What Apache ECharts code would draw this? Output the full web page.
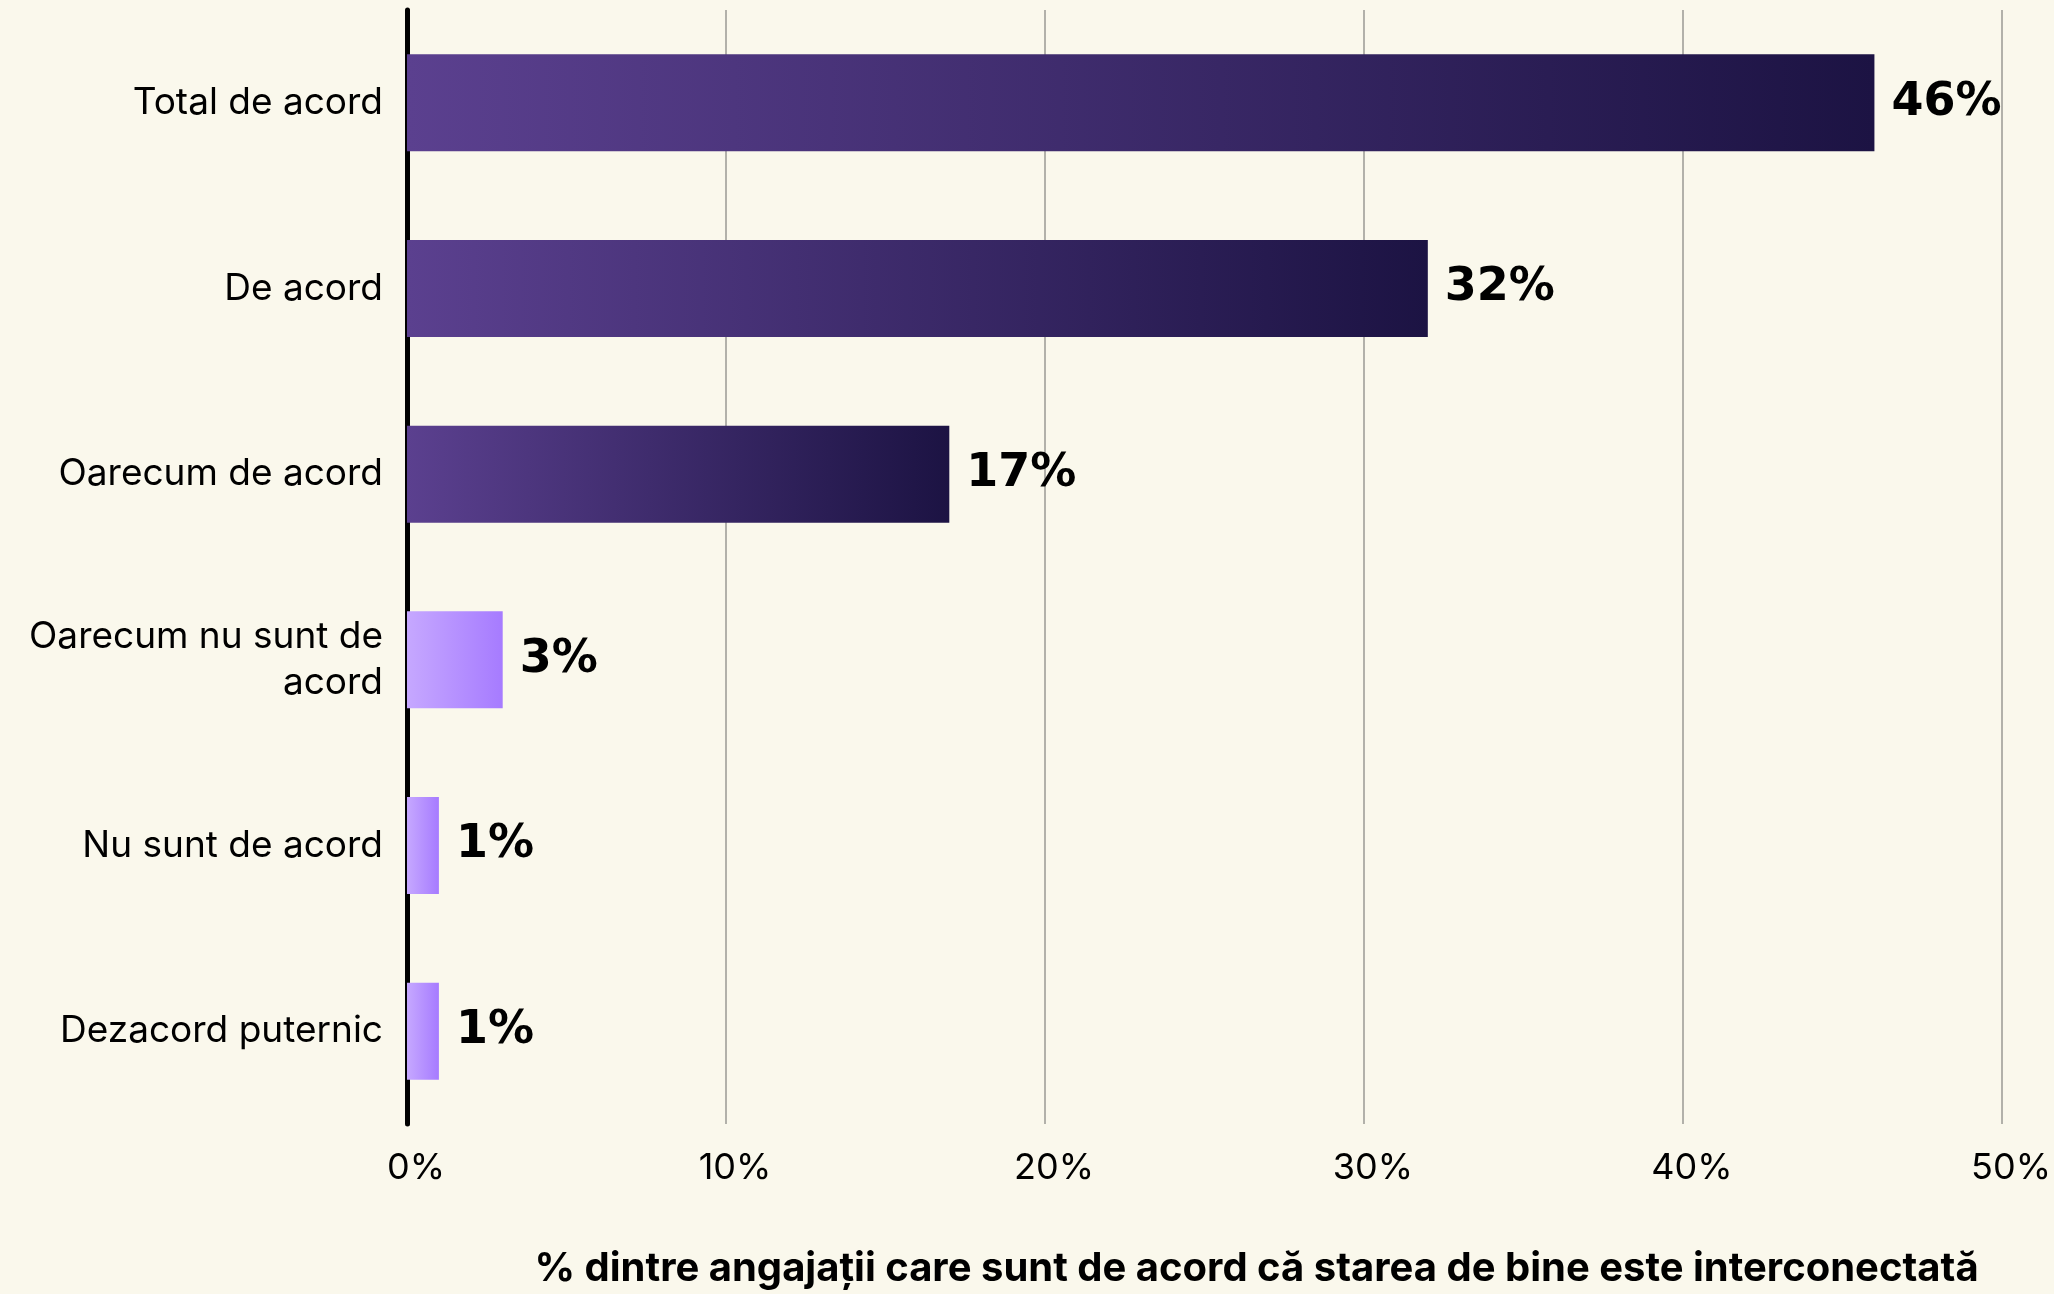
<!DOCTYPE html>
<html>
<head>
<meta charset="utf-8">
<script src="https://cdn.jsdelivr.net/npm/echarts@6/dist/echarts.min.js"></script>
<style>
  html, body { margin: 0; padding: 0; background: #faf8ec; }
  #chart { width: 2054px; height: 1294px; }
</style>
</head>
<body>
<div id="chart"></div>
<script>
// Response categories, top to bottom
const categories = [
  'Total de acord',
  'De acord',
  'Oarecum de acord',
  'Oarecum nu sunt de acord',
  'Nu sunt de acord',
  'Dezacord puternic'
];
// Share of employees (%) per response
const values = [46, 32, 17, 3, 1, 1];
// Which side of the scale each response sits on
const sides = ['agree', 'agree', 'agree', 'disagree', 'disagree', 'disagree'];
// Value-axis ticks
const tickValues = [0, 10, 20, 30, 40, 50];
const axisTitle = '% dintre angajații care sunt de acord că starea de bine este interconectată';

const gradients = {
  agree: ['#5b408f', '#1c1343'],
  disagree: ['#c6a8ff', '#a67bff']
};

const LABEL_FONT = '37px Inter';
const LABEL_MAX_WIDTH = 372;

// Word-wrap a category label to a maximum pixel width, without trailing spaces
const measureCtx = document.createElement('canvas').getContext('2d');
function wrapLabel(text) {
  measureCtx.font = LABEL_FONT;
  const words = text.split(' ');
  const lines = [];
  let line = '';
  for (const w of words) {
    const trial = line ? line + ' ' + w : w;
    if (line && measureCtx.measureText(trial).width > LABEL_MAX_WIDTH) {
      lines.push(line);
      line = w;
    } else {
      line = trial;
    }
  }
  if (line) lines.push(line);
  return lines.join('\n');
}

const chart = echarts.init(document.getElementById('chart'), null, { renderer: 'canvas' });

chart.setOption({
  backgroundColor: '#faf8ec',
  animation: false,
  grid: { left: 407, right: 49, top: 10, bottom: 158, containLabel: false },
  xAxis: {
    type: 'value',
    min: tickValues[0],
    max: tickValues[tickValues.length - 1],
    interval: tickValues[1] - tickValues[0],
    axisLine: { show: false },
    axisTick: { show: false },
    splitLine: { show: true, lineStyle: { color: '#9a9a94', width: 1.5 } },
    axisLabel: {
      formatter: v => v + '%',
      fontFamily: 'Inter',
      fontSize: 36,
      color: '#000',
      margin: 26,
      padding: [0, 0, 0, 18]
    },
    name: axisTitle,
    nameLocation: 'middle',
    nameGap: 125,
    nameTextStyle: {
      fontFamily: 'Inter',
      fontWeight: 'bold',
      fontSize: 40,
      color: '#000',
      padding: [0, 0, 0, 104]
    }
  },
  yAxis: {
    type: 'category',
    data: categories,
    inverse: true,
    axisLine: { show: true, lineStyle: { color: '#000', width: 5 } },
    axisTick: { show: false },
    splitLine: { show: false },
    axisLabel: {
      fontFamily: 'Inter',
      fontSize: 37,
      color: '#000',
      margin: 24,
      lineHeight: 46,
      align: 'right',
      formatter: wrapLabel
    }
  },
  series: [{
    type: 'bar',
    data: values,
    barWidth: 97,
    itemStyle: {
      color: params => {
        const g = gradients[sides[params.dataIndex]];
        return new echarts.graphic.LinearGradient(0, 0, 1, 0, [
          { offset: 0, color: g[0] },
          { offset: 1, color: g[1] }
        ]);
      }
    },
    label: {
      show: true,
      position: 'right',
      distance: 17,
      formatter: p => p.value + '%',
      fontFamily: 'DejaVu Sans',
      fontWeight: 'bold',
      fontSize: 46,
      color: '#000'
    }
  }]
});
</script>
</body>
</html>
